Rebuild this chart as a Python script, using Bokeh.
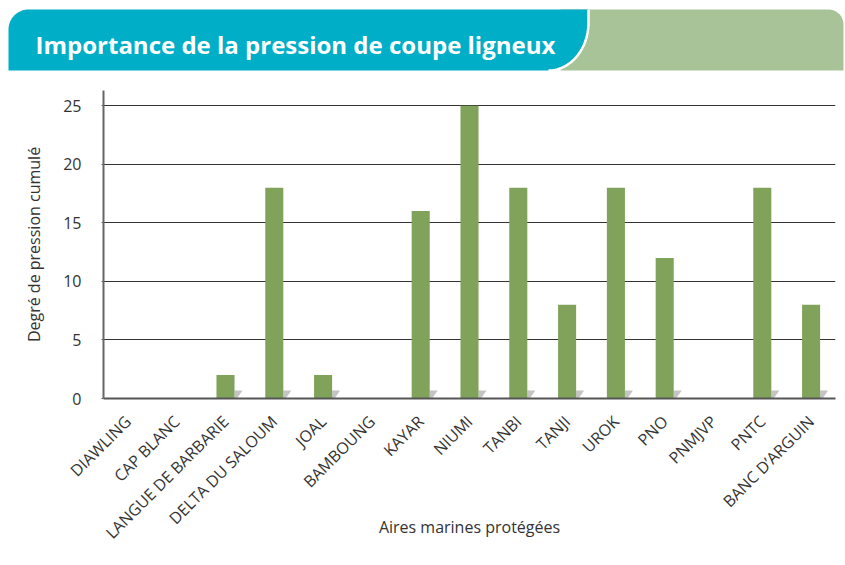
import numpy as np
from bokeh.plotting import figure
from bokeh.models import Range1d, FixedTicker, ColumnDataSource
from bokeh.layouts import column
from bokeh.embed import file_html
from bokeh.resources import INLINE
from bokeh.core.properties import value

# ---- data ----
categories = ["DIAWLING", "CAP BLANC", "LANGUE DE BARBARIE", "DELTA DU SALOUM", "JOAL",
              "BAMBOUNG", "KAYAR", "NIUMI", "TANBI", "TANJI", "UROK", "PNO", "PNMJVP",
              "PNTC", "BANC D’ARGUIN"]
values = [0, 0, 2, 18, 2, 0, 16, 25, 18, 8, 18, 12, 0, 18, 8]
y_ticks = [0, 5, 10, 15, 20, 25]
title_text = "Importance de la pression de coupe ligneux"
x_title = "Aires marines protégées"
y_title = "Degré de pression cumulé"

FONT = "Open Sans"
TEAL = "#00AEC7"
GREEN = "#A9C398"
BAR = "#80A25A"

W = 845
H_HEAD = 72
H_CHART = 565 - H_HEAD

# ---- header banner (page pixel coordinates) ----
head = figure(width=W, height=H_HEAD, x_range=Range1d(0, W), y_range=Range1d(H_HEAD, 0),
              output_backend="svg", toolbar_location=None, min_border=0,
              x_axis_location=None, y_axis_location=None)
try:
    head.frame_align = False
except Exception:
    pass
head.grid.visible = False
head.outline_line_color = None
head.background_fill_color = "white"
head.border_fill_color = "white"

# green part with rounded top-right corner
rg = 15
a0 = np.linspace(1.5 * np.pi, 2 * np.pi, 20)
g_x = [560] + list(843 - rg + rg * np.cos(a0)) + [843, 560]
g_y = [9] + list(9 + rg + rg * np.sin(a0)) + [70, 70]
head.patch(g_x, g_y, fill_color=GREEN, line_color=None)

r = 20
a1 = np.linspace(np.pi, 1.5 * np.pi, 20)
tl_x = list(8 + r + r * np.cos(a1))
tl_y = list(9 + r + r * np.sin(a1))
a2 = np.linspace(0, 0.5 * np.pi, 30)
rx, ry = 40, 48
br_x = list(548 + rx * np.cos(a2))
br_y = list(22 + ry * np.sin(a2))
teal_x = tl_x + [588] + br_x + [8]
teal_y = tl_y + [9] + br_y + [70]
head.patch(teal_x, teal_y, fill_color=TEAL, line_color=None)
head.line([588] + br_x, [9] + br_y, line_color="white", line_width=2.5)
head.text(x=[35], y=[44], text=[title_text], text_color="white", text_font=value(FONT),
          text_font_size="24px", text_font_style="bold", text_baseline="middle", text_align="left")

# ---- chart ----
idx = list(range(len(categories)))
src = ColumnDataSource(dict(x=idx, top=values))

p = figure(width=W, height=H_CHART, x_range=Range1d(-0.5, len(categories) - 0.5),
           y_range=Range1d(0, 26.3), output_backend="svg", toolbar_location=None,
           min_border_left=103, min_border_right=10, min_border_top=18, min_border_bottom=167)
p.outline_line_color = None
p.background_fill_color = "white"
p.border_fill_color = "white"

bw = 0.37
# small drop shadows at the foot of each bar
px_per_x = 732 / len(categories)
px_per_y = 308 / 26.3
sw, sh = 8 / px_per_x, 8 / px_per_y
xs, ys = [], []
for i, v in zip(idx, values):
    if v > 0:
        rgt = i + bw / 2
        xs.append([rgt, rgt, rgt + sw, rgt + 0.3 * sw])
        ys.append([0, sh, sh, 0])
p.patches(xs, ys, fill_color="#c4c4c4", line_color=None)

p.vbar(x="x", top="top", width=bw, source=src, fill_color=BAR, line_color=None)

p.xgrid.visible = False
p.ygrid.ticker = FixedTicker(ticks=y_ticks)
p.ygrid.grid_line_color = "#333333"
p.ygrid.grid_line_width = 1

p.yaxis.ticker = FixedTicker(ticks=y_ticks)
p.yaxis.axis_line_color = "#666666"
p.yaxis.axis_line_width = 2
p.yaxis.major_tick_line_color = "#666666"
p.yaxis.major_tick_out = 2
p.yaxis.major_tick_in = 0
p.yaxis.minor_tick_line_color = None
p.yaxis.major_label_standoff = 20
p.yaxis.major_label_text_font = FONT
p.yaxis.major_label_text_font_size = "16px"
p.yaxis.major_label_text_color = "#333333"
p.yaxis.axis_label = y_title
p.yaxis.axis_label_text_font = FONT
p.yaxis.axis_label_text_font_size = "16px"
p.yaxis.axis_label_text_font_style = "normal"
p.yaxis.axis_label_text_color = "#333333"
p.yaxis.axis_label_standoff = 15

p.xaxis.ticker = FixedTicker(ticks=idx)
p.xaxis.major_label_overrides = {i: c for i, c in zip(idx, categories)}
p.xaxis.major_label_orientation = np.pi / 4
p.xaxis.axis_line_color = "#555555"
p.xaxis.axis_line_width = 2
p.xaxis.major_tick_line_color = None
p.xaxis.minor_tick_line_color = None
p.xaxis.major_label_standoff = 14
p.xaxis.major_label_text_font = FONT
p.xaxis.major_label_text_font_size = "16px"
p.xaxis.major_label_text_color = "#333333"
p.xaxis.axis_label = x_title
p.xaxis.axis_label_text_font = FONT
p.xaxis.axis_label_text_font_size = "16px"
p.xaxis.axis_label_text_font_style = "normal"
p.xaxis.axis_label_text_color = "#333333"
p.xaxis.axis_label_standoff = -38

layout = column(head, p, spacing=0)
open("out.html", "w").write(file_html(layout, INLINE))
